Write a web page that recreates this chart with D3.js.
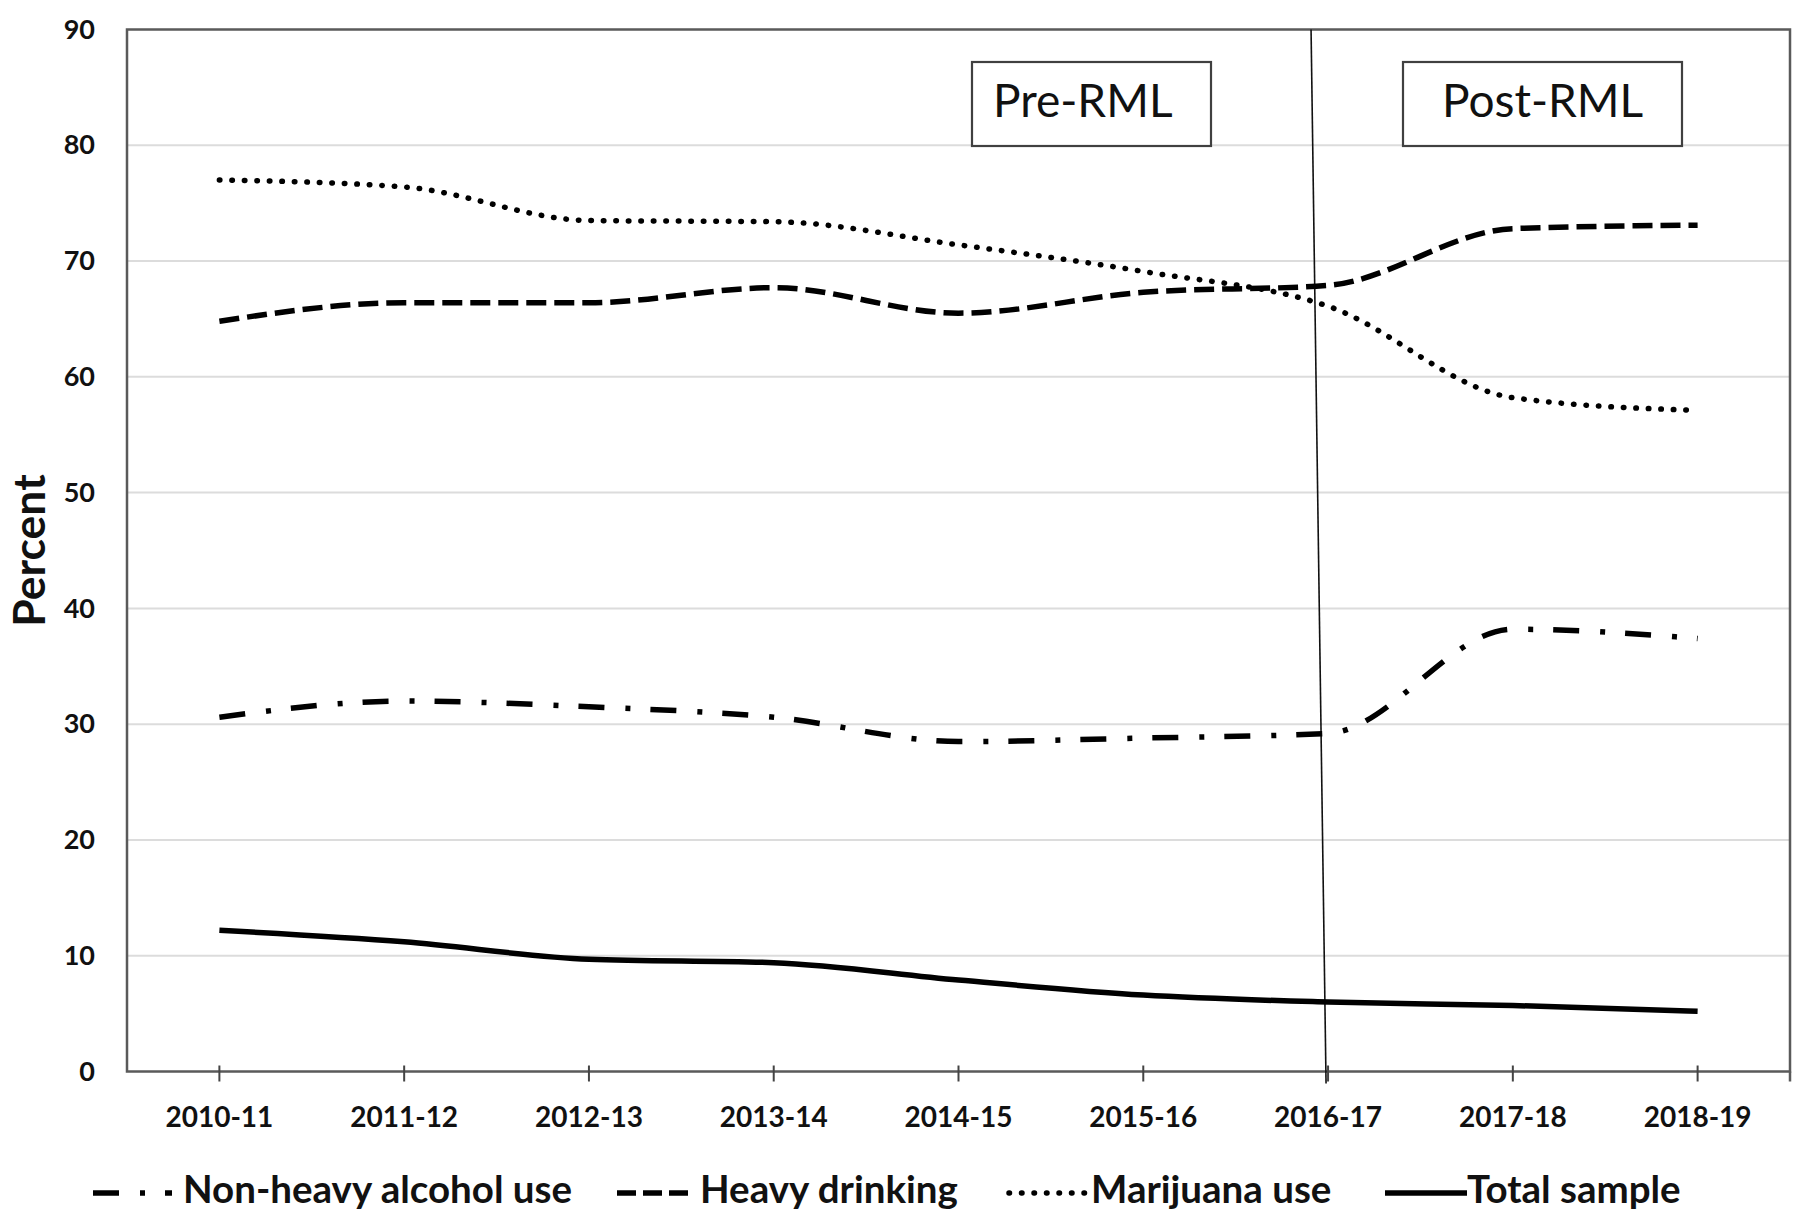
<!DOCTYPE html>
<html>
<head>
<meta charset="utf-8">
<script src="https://cdn.jsdelivr.net/npm/d3@7"></script>
<style>
  html, body { margin: 0; padding: 0; background: #ffffff; }
  svg { display: block; }
  text { font-family: Lato, "Open Sans", sans-serif; fill: #111; }
</style>
</head>
<body>
<svg id="chart" width="1800" height="1212"></svg>
<script>
// ---- data ----
const categories = ["2010-11", "2011-12", "2012-13", "2013-14", "2014-15", "2015-16", "2016-17", "2017-18", "2018-19"];
const nonHeavyAlcohol = [30.6, 32.0, 31.5, 30.6, 28.5, 28.8, 29.2, 38.2, 37.4];
const heavyDrinking   = [64.8, 66.4, 66.4, 67.7, 65.5, 67.3, 67.9, 72.8, 73.1];
const marijuanaUse    = [77.0, 76.4, 73.5, 73.4, 71.4, 69.1, 66.1, 58.2, 57.1];
const totalSample     = [12.2, 11.2, 9.7, 9.4, 7.9, 6.6, 6.0, 5.7, 5.2];
const yTicks = [0, 10, 20, 30, 40, 50, 60, 70, 80, 90];
const seriesNames = ["Non-heavy alcohol use", "Heavy drinking", "Marijuana use", "Total sample"];
const periodLabels = ["Pre-RML", "Post-RML"];
const rmlCategory = "2016-17";

// ---- layout ----
const svg = d3.select("#chart");
const plot = { left: 127, right: 1790, top: 29.5, bottom: 1071.5 };

const x = d3.scaleBand().domain(categories).range([plot.left, plot.right]).paddingInner(0).paddingOuter(0);
const xc = c => x(c) + x.bandwidth() / 2;
const y = d3.scaleLinear().domain([0, 90]).range([plot.bottom, plot.top]);

// gridlines
svg.append("g").selectAll("line").data(yTicks.filter(t => t > 0 && t < 90)).join("line")
  .attr("x1", plot.left).attr("x2", plot.right)
  .attr("y1", d => y(d)).attr("y2", d => y(d))
  .attr("stroke", "#dcdcdc").attr("stroke-width", 2);

// plot frame
svg.append("rect")
  .attr("x", plot.left).attr("y", plot.top)
  .attr("width", plot.right - plot.left).attr("height", plot.bottom - plot.top)
  .attr("fill", "none").attr("stroke", "#5a5a5a").attr("stroke-width", 2.5);

// y axis labels
const yAxis = d3.axisLeft(y).tickValues(yTicks).tickSize(0).tickPadding(32);
const gy = svg.append("g").attr("transform", `translate(${plot.left},0)`).call(yAxis);
gy.select(".domain").remove();
gy.selectAll("text").style("font-family", "Lato, sans-serif").style("font-weight", 700)
  .style("font-size", "27px").attr("fill", "#111");

// x axis
const xAxis = d3.axisBottom(x).tickSizeInner(0).tickSizeOuter(0).tickPadding(55);
const gx = svg.append("g").attr("transform", `translate(0,${plot.bottom})`).call(xAxis);
gx.select(".domain").remove();
gx.selectAll("text").style("font-family", "Lato, sans-serif").style("font-weight", 700)
  .style("font-size", "28px").attr("fill", "#111").attr("dy", "0");
// tick marks crossing the axis
svg.append("g").selectAll("line").data(categories).join("line")
  .attr("x1", d => xc(d)).attr("x2", d => xc(d))
  .attr("y1", plot.bottom - 6).attr("y2", plot.bottom + 10)
  .attr("stroke", "#444").attr("stroke-width", 2);
svg.append("line")
  .attr("x1", plot.right).attr("x2", plot.right)
  .attr("y1", plot.bottom).attr("y2", plot.bottom + 10)
  .attr("stroke", "#5a5a5a").attr("stroke-width", 2.5);

// y axis title
svg.append("text")
  .attr("transform", `translate(45,${(plot.top + plot.bottom) / 2}) rotate(-90)`)
  .attr("text-anchor", "middle")
  .style("font-family", "Lato, sans-serif").style("font-weight", 700).style("font-size", "44.5px")
  .text("Percent");

// RML divider (slightly slanted as in the original)
svg.append("line")
  .attr("x1", xc(rmlCategory) - 17).attr("y1", plot.top)
  .attr("x2", xc(rmlCategory) - 2).attr("y2", plot.bottom + 12)
  .attr("stroke", "#111").attr("stroke-width", 1.6);

// period boxes
const boxes = [
  { label: periodLabels[0], x0: 972, x1: 1211, tx: 993 },
  { label: periodLabels[1], x0: 1403, x1: 1682, tx: 1442 }
];
const bg = svg.append("g");
bg.selectAll("rect").data(boxes).join("rect")
  .attr("x", d => d.x0).attr("y", 62)
  .attr("width", d => d.x1 - d.x0).attr("height", 84)
  .attr("fill", "#fff").attr("stroke", "#404040").attr("stroke-width", 2.2);
bg.selectAll("text").data(boxes).join("text")
  .attr("x", d => d.tx).attr("y", 117)
  .style("font-family", "Lato, sans-serif").style("font-weight", 400).style("font-size", "46px")
  .attr("fill", "#111")
  .text(d => d.label);

// series
const styles = [
  { values: nonHeavyAlcohol, dash: "26 21 5 20", cap: "butt", width: 5.5 },
  { values: heavyDrinking,   dash: "20 8",       cap: "butt", width: 5.5 },
  { values: marijuanaUse,    dash: "0.5 12",     cap: "round", width: 5.5 },
  { values: totalSample,     dash: null,         cap: "butt", width: 5.5 }
];
const line = d3.line().x((d, i) => xc(categories[i])).y(d => y(d)).curve(d3.curveMonotoneX);
svg.append("g").selectAll("path").data(styles).join("path")
  .attr("d", d => line(d.values))
  .attr("fill", "none").attr("stroke", "#000")
  .attr("stroke-width", d => d.width)
  .attr("stroke-linecap", d => d.cap)
  .attr("stroke-linejoin", "round")
  .attr("stroke-dasharray", d => d.dash);

// legend
const legendY = 1193;
const legendItems = [
  { name: seriesNames[0], s0: 93,   s1: 172,  tx: 183,  st: styles[0] },
  { name: seriesNames[1], s0: 617,  s1: 688,  tx: 700,  st: { dash: "19 7", cap: "butt", width: 5.5 } },
  { name: seriesNames[2], s0: 1009, s1: 1085, tx: 1091, st: styles[2] },
  { name: seriesNames[3], s0: 1385, s1: 1467, tx: 1467, st: styles[3] }
];
const lg = svg.append("g");
lg.selectAll("line").data(legendItems).join("line")
  .attr("x1", d => d.s0).attr("x2", d => d.s1)
  .attr("y1", legendY).attr("y2", legendY)
  .attr("stroke", "#000")
  .attr("stroke-width", d => d.st.width)
  .attr("stroke-linecap", d => d.st.cap)
  .attr("stroke-dasharray", d => d.st.dash);
lg.selectAll("text").data(legendItems).join("text")
  .attr("x", d => d.tx).attr("y", 1203)
  .style("font-family", "Lato, sans-serif").style("font-weight", 700).style("font-size", "38.5px")
  .attr("fill", "#111")
  .text(d => d.name);
</script>
</body>
</html>
